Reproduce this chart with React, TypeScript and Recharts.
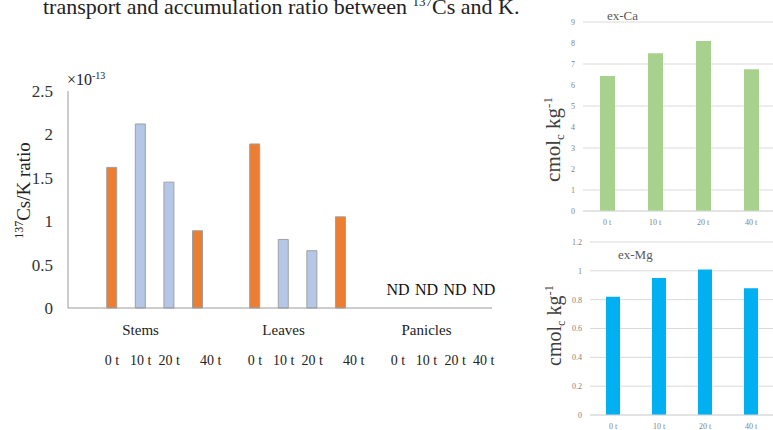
import React from 'react';
import { BarChart, Bar, XAxis, YAxis, CartesianGrid, Cell, ReferenceDot } from 'recharts';

const SERIF = "'Liberation Serif', 'Times New Roman', serif";

// 137Cs/K ratio (x10^-13) per plant part and treatment
const parts = ['Stems', 'Leaves', 'Panicles'];
const treatments = ['0 t', '10 t', '20 t', '40 t'];
const stemsRatio = [1.62, 2.12, 1.45, 0.89];
const leavesRatio = [1.89, 0.79, 0.66, 1.05];
const paniclesRatio: (number | null)[] = [null, null, null, null]; // ND
const ratioTicks = [0, 0.5, 1, 1.5, 2, 2.5];

// exchangeable cations (cmolc/kg)
const exCa = [6.43, 7.51, 8.1, 6.75];
const exMg = [0.82, 0.95, 1.01, 0.88];
const caTicks = [0, 1, 2, 3, 4, 5, 6, 7, 8, 9];
const mgTicks = [0, 0.2, 0.4, 0.6, 0.8, 1, 1.2];

const treatColors = ['#ED7D31', '#B4C7E7', '#B4C7E7', '#ED7D31'];

// each part takes 4 slots plus one empty slot between groups
const ratioRows = [stemsRatio, leavesRatio, paniclesRatio].flatMap((vals, p) =>
  vals.map((v, t) => ({ slot: p * 5 + t, part: p, treat: t, value: v }))
);
const slotTicks = ratioRows.map((r) => r.slot);
const partTicks = parts.map((_, p) => p * 5 + 1);
const slotDomain = [-1.54, 13.29];

const caRows = treatments.map((t, i) => ({ treatment: t, value: exCa[i] }));
const mgRows = treatments.map((t, i) => ({ treatment: t, value: exMg[i] }));

const PartTick = (props: any) => {
  const { x, y, payload } = props;
  return (
    <text x={x} y={y + 19} textAnchor="middle" fontFamily={SERIF} fontSize={15} fill="#222">
      {parts[(payload.value - 1) / 5]}
    </text>
  );
};

const TreatTick = (props: any) => {
  const { x, y, payload } = props;
  const t = payload.value % 5;
  const p = Math.floor(payload.value / 5);
  const dx = t === 3 && p < 2 ? 13 : 0;
  return (
    <text x={x + dx} y={y + 19} textAnchor="middle" fontFamily={SERIF} fontSize={14} fill="#222">
      {treatments[t]}
    </text>
  );
};

const RatioLabel = (props: any) => {
  const vb = props.viewBox || { x: 0, y: 0, width: 0, height: 0 };
  const cx = vb.x + 30;
  const cy = vb.y + vb.height / 2 - 9;
  return (
    <g>
      <text
        transform={`translate(${cx},${cy}) rotate(-90)`}
        textAnchor="middle"
        fontFamily={SERIF}
        fontSize={19}
        fill="#222"
      >
        <tspan fontSize={12} dy={-7}>137</tspan>
        <tspan dy={7}>Cs/K ratio</tspan>
      </text>
      <text x={vb.x + vb.width - 1} y={vb.y - 6} fontFamily={SERIF} fontSize={16} fill="#222">
        ×10<tspan fontSize={10} dy={-6}>-13</tspan>
      </text>
    </g>
  );
};

const UnitLabel = (props: any) => {
  const vb = props.viewBox || { x: 0, y: 0, width: 0, height: 0 };
  const cx = vb.x + props.dx;
  const cy = vb.y + vb.height / 2 + props.dy;
  return (
    <text
      transform={`translate(${cx},${cy}) rotate(-90)`}
      textAnchor="middle"
      fontFamily={SERIF}
      fontSize={props.size}
      fill="#404040"
    >
      <tspan dy={6}>cmol</tspan>
      <tspan fontSize={props.size * 0.62} dy={4}>c</tspan>
      <tspan dy={-4}> kg</tspan>
      <tspan fontSize={props.size * 0.62} dy={-8}>-1</tspan>
    </text>
  );
};

const smallTick = { fontSize: 8, fill: '#7F7F7F', fontFamily: SERIF };

export default function App() {
  return (
    <div
      style={{
        position: 'absolute',
        left: 0,
        top: 0,
        width: 773,
        height: 430,
        overflow: 'hidden',
        background: '#fff',
        fontFamily: SERIF,
      }}
    >
      <div
        style={{
          position: 'absolute',
          left: 43,
          top: -5,
          fontSize: 22,
          lineHeight: 1,
          color: '#222',
          whiteSpace: 'nowrap',
        }}
      >
        transport and accumulation ratio between <sup style={{ fontSize: 13 }}>137</sup>Cs and K.
      </div>

      {/* Left - ratio chart */}
      <div style={{ position: 'absolute', left: 0, top: 0 }}>
        <BarChart
          width={520}
          height={378}
          data={ratioRows}
          margin={{ top: 91, right: 28, left: 0, bottom: 0 }}
        >
          <XAxis
            xAxisId="part"
            type="number"
            dataKey="slot"
            domain={slotDomain}
            allowDataOverflow
            ticks={partTicks}
            interval={0}
            height={30}
            axisLine={{ stroke: '#9A9A9A' }}
            tickLine={false}
            tick={<PartTick />}
          />
          <XAxis
            xAxisId="slot"
            type="number"
            dataKey="slot"
            domain={slotDomain}
            allowDataOverflow
            ticks={slotTicks}
            interval={0}
            height={40}
            axisLine={false}
            tickLine={false}
            tick={<TreatTick />}
          />
          <YAxis
            type="number"
            domain={[0, 2.5]}
            ticks={ratioTicks}
            width={68}
            axisLine={{ stroke: '#9A9A9A' }}
            tickLine={false}
            tickMargin={9}
            tick={{ fill: '#333', fontSize: 17, fontFamily: SERIF }}
            label={<RatioLabel />}
          />
          <Bar
            xAxisId="slot"
            dataKey="value"
            barSize={10}
            stroke="#A0A0A0"
            strokeWidth={1}
            isAnimationActive={false}
          >
            {ratioRows.map((r) => (
              <Cell key={`cell-${r.slot}`} fill={treatColors[r.treat]} />
            ))}
          </Bar>
          {ratioRows
            .filter((r) => r.value === null)
            .map((r) => (
              <ReferenceDot
                key={`nd-${r.slot}`}
                xAxisId="slot"
                x={r.slot}
                y={0}
                r={1}
                fill="none"
                stroke="none"
                label={{
                  value: 'ND',
                  position: 'top',
                  offset: 12,
                  fill: '#111',
                  fontSize: 16,
                  fontFamily: SERIF,
                }}
              />
            ))}
        </BarChart>
      </div>

      {/* Right top - ex-Ca */}
      <div style={{ position: 'absolute', left: 540, top: 0 }}>
        <BarChart width={235} height={231} data={caRows} margin={{ top: 22, right: 0, left: 0, bottom: 0 }}>
          <CartesianGrid vertical={false} stroke="#D9D9D9" />
          <XAxis
            dataKey="treatment"
            height={20}
            interval={0}
            axisLine={{ stroke: '#D9D9D9' }}
            tickLine={false}
            tick={smallTick}
          />
          <YAxis
            domain={[0, 9]}
            ticks={caTicks}
            width={43}
            axisLine={false}
            tickLine={false}
            tick={smallTick}
            label={<UnitLabel dx={14} dy={23} size={21} />}
          />
          <Bar dataKey="value" fill="#A9D18E" barSize={15} isAnimationActive={false} />
        </BarChart>
      </div>
      <div style={{ position: 'absolute', left: 607, top: 8, fontSize: 13, color: '#595959' }}>ex-Ca</div>

      {/* Right bottom - ex-Mg */}
      <div style={{ position: 'absolute', left: 540, top: 225 }}>
        <BarChart width={234} height={210} data={mgRows} margin={{ top: 17, right: 0, left: 0, bottom: 0 }}>
          <CartesianGrid vertical={false} stroke="#D9D9D9" />
          <XAxis
            dataKey="treatment"
            height={20}
            interval={0}
            axisLine={{ stroke: '#D9D9D9' }}
            tickLine={false}
            tick={smallTick}
          />
          <YAxis
            domain={[0, 1.2]}
            ticks={mgTicks}
            width={50}
            axisLine={false}
            tickLine={false}
            tick={smallTick}
            label={<UnitLabel dx={15} dy={-3} size={20} />}
          />
          <Bar dataKey="value" fill="#00B0F0" barSize={14} isAnimationActive={false} />
        </BarChart>
      </div>
      <div style={{ position: 'absolute', left: 618, top: 247, fontSize: 13, color: '#595959' }}>ex-Mg</div>
    </div>
  );
}
